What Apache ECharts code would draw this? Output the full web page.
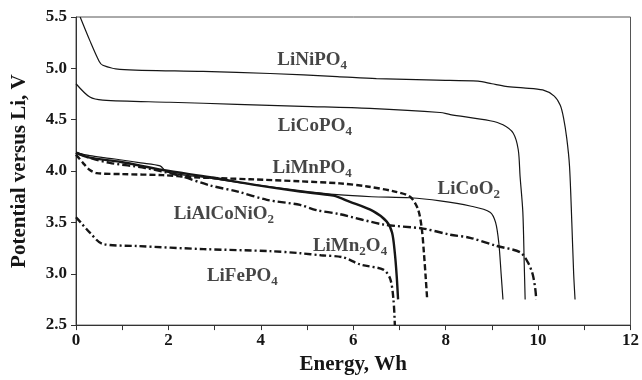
<!DOCTYPE html>
<html>
<head>
  <meta charset="UTF-8" />
  <title>Potential versus energy</title>
  <script src="https://cdn.jsdelivr.net/npm/echarts@6/dist/echarts.min.js"></script>
  <style>
    html, body { margin: 0; padding: 0; background: #fff; }
    #chart { width: 642px; height: 380px; }
  </style>
</head>
<body>
  <div id="chart"></div>
  <script>
    // [energy Wh, potential V]
    const liNiPO4 = [[0.09, 5.5], [0.3, 5.27], [0.5, 5.07], [0.58, 5.03], [0.95, 4.99], [2.75, 4.97], [4.2, 4.95],
      [5.65, 4.92], [6.5, 4.9], [7.8, 4.885], [8.7, 4.875], [9.0, 4.85], [9.3, 4.825], [9.68, 4.81], [10.1, 4.79],
      [10.35, 4.73], [10.48, 4.64], [10.55, 4.52], [10.62, 4.32], [10.68, 4.05], [10.73, 3.5], [10.77, 3.0], [10.8, 2.75]];
    const liCoPO4 = [[0, 4.85], [0.3, 4.72], [0.58, 4.69], [2.03, 4.67], [3.48, 4.65], [4.9, 4.63], [6.36, 4.61],
      [7.88, 4.57], [8.1, 4.55], [8.96, 4.49], [9.24, 4.45], [9.46, 4.37], [9.57, 4.21], [9.61, 3.95],
      [9.67, 3.6], [9.7, 3.1], [9.72, 2.75]];
    const liCoO2 = [[0, 4.18], [0.3, 4.15], [0.6, 4.13], [0.95, 4.11], [1.4, 4.08], [1.82, 4.05], [1.97, 3.99],
      [2.9, 3.93], [3.5, 3.89], [4.85, 3.81], [5.65, 3.77], [6.4, 3.75], [7.23, 3.74], [7.88, 3.71], [8.53, 3.66],
      [8.96, 3.6], [9.08, 3.5], [9.15, 3.3], [9.2, 3.0], [9.24, 2.75]];
    const liMn2O4 = [[0, 4.18], [0.3, 4.13], [0.95, 4.09], [1.88, 4.01], [2.9, 3.94], [3.8, 3.87], [4.85, 3.8],
      [5.57, 3.76], [5.93, 3.7], [6.43, 3.61], [6.72, 3.51], [6.84, 3.4], [6.9, 3.2], [6.94, 2.98], [6.97, 2.75]];
    const liMnPO4 = [[0, 4.16], [0.15, 4.08], [0.3, 4.01], [0.45, 3.98], [1.0, 3.97], [1.88, 3.96], [2.5, 3.94],
      [3.77, 3.92], [4.85, 3.9], [5.71, 3.88], [6.3, 3.85], [6.9, 3.8], [7.23, 3.75], [7.4, 3.63], [7.48, 3.45],
      [7.53, 3.2], [7.57, 2.95], [7.6, 2.75]];
    const liAlCoNiO2 = [[0, 4.18], [0.3, 4.13], [0.73, 4.08], [1.5, 4.03], [2.2, 3.96], [2.9, 3.86], [3.5, 3.8],
      [4.13, 3.72], [4.85, 3.67], [5.2, 3.62], [5.71, 3.58], [6.65, 3.48], [7.51, 3.44], [8.1, 3.38], [8.53, 3.35],
      [9.11, 3.27], [9.61, 3.21], [9.78, 3.11], [9.88, 3.0], [9.94, 2.85], [9.96, 2.75]];
    const liFePO4 = [[0, 3.55], [0.1, 3.5], [0.3, 3.4], [0.58, 3.29], [1.32, 3.27], [2.76, 3.24], [4.2, 3.22],
      [4.85, 3.2], [5.3, 3.18], [5.78, 3.16], [6.15, 3.09], [6.65, 3.04], [6.8, 2.95], [6.87, 2.75], [6.9, 2.5]];

    // curve labels: text (with subscript markup) and position in data units
    const labelTexts = ['LiNiPO{s|4}', 'LiCoPO{s|4}', 'LiMnPO{s|4}', 'LiCoO{s|2}', 'LiAlCoNiO{s|2}', 'LiMn{s|2}O{s|4}', 'LiFePO{s|4}'];
    const labelPos = [[5.11, 5.08], [5.17, 4.44], [5.11, 4.03], [8.5, 3.82], [3.2, 3.58], [5.93, 3.27], [3.6, 2.98]];

    const serif = '"Liberation Serif", "DejaVu Serif", serif';
    const ink = '#161616';

    function curve(name, data, width, type) {
      return {
        name: name,
        type: 'line',
        data: data,
        symbol: 'none',
        smooth: 0.3,
        lineStyle: { color: ink, width: width, type: type },
        z: 2
      };
    }

    const chart = echarts.init(document.getElementById('chart'));
    chart.setOption({
      animation: false,
      grid: { left: 76, right: 10, top: 17, bottom: 54, show: true, borderColor: '#555', borderWidth: 1 },
      xAxis: {
        type: 'value', min: 0, max: 12, interval: 1,
        name: 'Energy, Wh', nameLocation: 'middle', nameGap: 26,
        nameTextStyle: { fontFamily: serif, fontWeight: 'bold', fontSize: 21, color: ink },
        axisLine: { lineStyle: { color: '#333' } },
        axisTick: { length: 5, lineStyle: { color: '#333' } },
        axisLabel: {
          fontFamily: serif, fontWeight: 'bold', fontSize: 17, color: ink, margin: 7,
          formatter: v => (v % 2 === 0 ? String(v) : '')
        },
        splitLine: { show: false }
      },
      yAxis: {
        type: 'value', min: 2.5, max: 5.5, interval: 0.5,
        name: 'Potential versus Li, V', nameLocation: 'middle', nameGap: 46,
        nameTextStyle: { fontFamily: serif, fontWeight: 'bold', fontSize: 21, color: ink },
        axisLine: { show: true, lineStyle: { color: '#333' } },
        axisTick: { show: true, length: 5, lineStyle: { color: '#333' } },
        axisLabel: {
          fontFamily: serif, fontWeight: 'bold', fontSize: 17, color: ink, margin: 9,
          formatter: v => v.toFixed(1)
        },
        splitLine: { show: false }
      },
      series: [
        curve('LiNiPO4', liNiPO4, 1.2, 'solid'),
        curve('LiCoPO4', liCoPO4, 1.2, 'solid'),
        curve('LiCoO2', liCoO2, 1.2, 'solid'),
        curve('LiMn2O4', liMn2O4, 2.4, 'solid'),
        curve('LiMnPO4', liMnPO4, 2.4, [6, 3]),
        curve('LiAlCoNiO2', liAlCoNiO2, 2.4, [8, 3, 2, 3]),
        curve('LiFePO4', liFePO4, 2.4, [7, 3, 2, 3]),
        {
          type: 'scatter',
          symbolSize: 0,
          silent: true,
          z: 5,
          data: labelPos.map((p, i) => ({ value: p, label: { formatter: labelTexts[i] } })),
          label: {
            show: true,
            position: 'inside',
            fontFamily: serif,
            fontWeight: 'bold',
            fontSize: 19,
            color: ink,
            rich: {
              s: { fontFamily: serif, fontWeight: 'bold', fontSize: 13, color: ink, padding: [11, 0, 0, 0] }
            }
          }
        }
      ]
    });
  </script>
</body>
</html>
